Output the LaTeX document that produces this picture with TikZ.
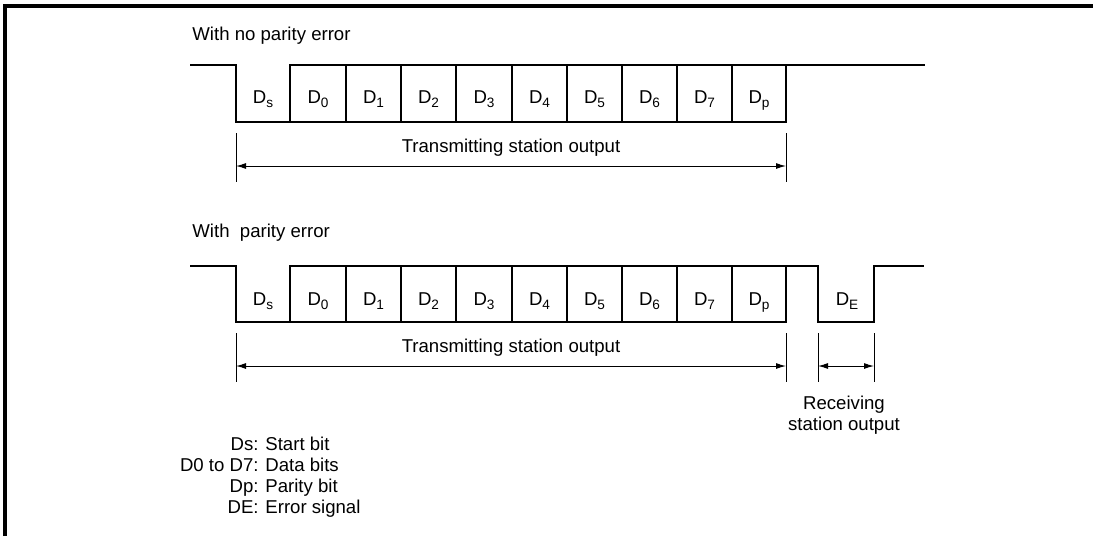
\documentclass[tikz,border=0pt]{standalone}
\usepackage{fontspec}
\setmainfont{Liberation Sans}
\usetikzlibrary{arrows.meta, positioning}
\newcommand{\subbit}[1]{\raisebox{-2.2pt}{\fontsize{6.8}{8}\selectfont #1}}
\tikzset{
  marco/.style={line width=1.6pt},
  senal/.style={line width=1.3pt, line join=miter},
  cota/.style={line width=0.5pt},
  flecha/.style={cota, {Latex[length=5pt,width=3pt]}-{Latex[length=5pt,width=3pt]}},
  texto/.style={font=\fontsize{9.3}{10.5}\selectfont, inner sep=0pt},
  bit/.style={texto, anchor=base},
  leyenda/.style={texto}
}

\begin{document}
\begin{tikzpicture}[x=0.5pt, y=-0.5pt]
  \useasboundingbox (0,0) rectangle (1093,536);
  % marco
  \draw[marco] (5,536) -- (5,6) -- (1093,6);

  % sin error de paridad
  \node[texto, anchor=base west] (titA) at (192,40) {With no parity error};
  \draw[senal] (190,65) -- (236,65) -- (236,122) -- (786,122) -- (786,65);
  \draw[senal] (290,122) -- (290,65) -- (925,65);
  \foreach \x in {346,401,456,512,567,622,677,732}
    \draw[senal] (\x,65) -- (\x,122);
  \foreach \xc/\lab/\n in {263/s/s,318/0/0,373.5/1/1,428.5/2/2,484/3/3,
      539.5/4/4,594.5/5/5,649.5/6/6,704.5/7/7,759/p/p}
    \node[bit] (a\n) at (\xc,103) {D\subbit{\lab}};
  \draw[cota] (236,133) -- (236,182);
  \draw[cota] (786,133) -- (786,182);
  \coordinate (a1) at (236,166);
  \coordinate (a2) at (786,166);
  \draw[flecha] (a1) -- (a2);
  \node[texto, anchor=base] (txA) at (511,152) {Transmitting station output};

  % con error de paridad
  \node[texto, anchor=base west] (titB) at (192,237) {With\ \ parity error};
  \draw[senal] (190,266) -- (236,266) -- (236,322) -- (786,322) -- (786,266);
  \draw[senal] (290,322) -- (290,266) -- (818,266) -- (818,322) -- (874,322)
    -- (874,266) -- (924,266);
  \foreach \x in {346,401,456,512,567,622,677,732}
    \draw[senal] (\x,266) -- (\x,322);
  \foreach \xc/\lab/\n in {263/s/s,318/0/0,373.5/1/1,428.5/2/2,484/3/3,
      539.5/4/4,594.5/5/5,649.5/6/6,704.5/7/7,759/p/p}
    \node[bit] (b\n) at (\xc,305) {D\subbit{\lab}};
  \node[bit] (bE) at (847,305) {D\subbit{E}};
  \foreach \x in {236,786,818,874}
    \draw[cota] (\x,333) -- (\x,382);
  \coordinate (b1) at (236,366);
  \coordinate (b2) at (786,366);
  \coordinate (b3) at (818,366);
  \coordinate (b4) at (874,366);
  \draw[flecha] (b1) -- (b2);
  \draw[flecha] (b3) -- (b4);
  \node[texto, anchor=base] (txB) at (511,352) {Transmitting station output};
  \node[texto, anchor=base] (txR1) at (844,409) {Receiving};
  \node[texto, anchor=base] (txR2) at (844,430) {station output};

  % leyenda
  \foreach \y/\clave/\desc in {450/Ds:/Start bit,471/D0 to D7:/Data bits,
      492/Dp:/Parity bit,513/DE:/Error signal}{
    \node[leyenda, anchor=base east] at (259,\y) {\clave};
    \node[leyenda, anchor=base west] at (265,\y) {\desc};
  }
\end{tikzpicture}
\end{document}
